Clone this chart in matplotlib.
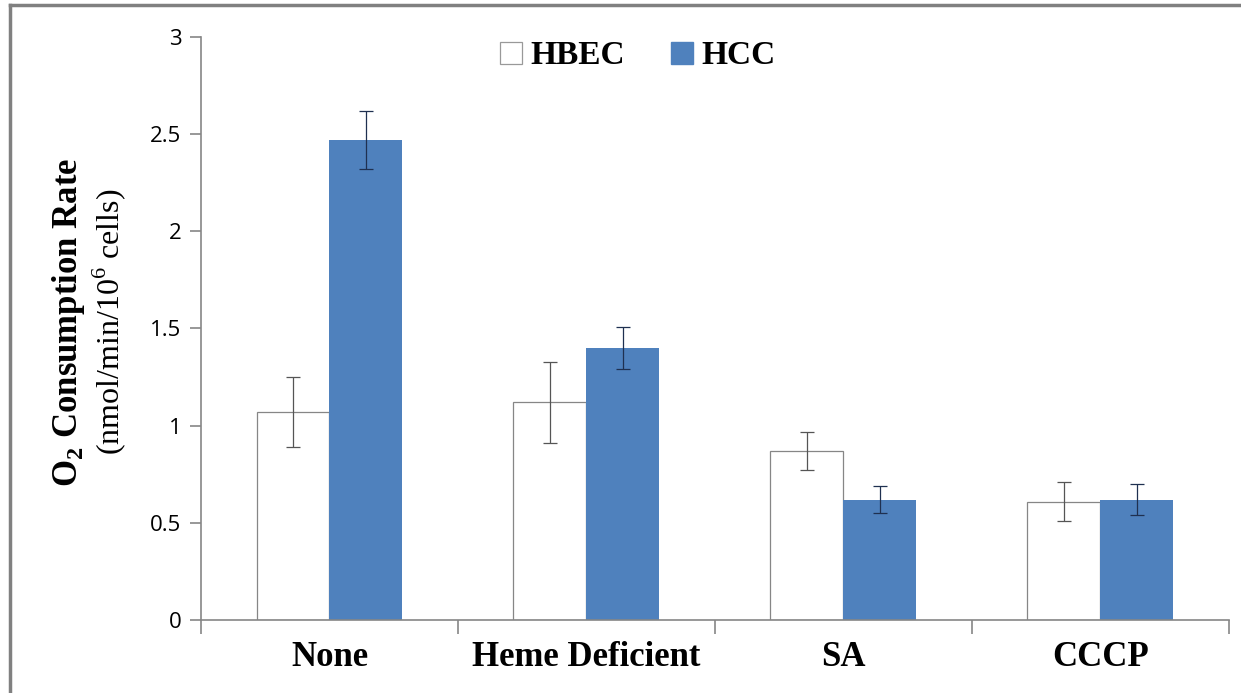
import numpy as np
import matplotlib.pyplot as plt
from matplotlib.patches import Rectangle
from matplotlib.lines import Line2D

plt.rcParams["mathtext.fontset"] = "custom"
plt.rcParams["mathtext.rm"] = "Liberation Serif"
plt.rcParams["mathtext.bf"] = "Liberation Serif:bold"

# Données
categories = ["None", "Heme Deficient", "SA", "CCCP"]
hbec = [1.07, 1.12, 0.87, 0.61]
hbec_err = [0.18, 0.21, 0.10, 0.10]
hcc = [2.47, 1.40, 0.62, 0.62]
hcc_err = [0.15, 0.11, 0.07, 0.08]

axis_col = "#868686"
blue = "#4f81bd"

fig = plt.figure(figsize=(12.41, 6.93), dpi=100)
ax = fig.add_axes([0.162, 0.105, 0.828, 0.842])

x = np.arange(len(categories))
w = 0.284
ax.bar(x - w / 2, hbec, w, color="white", edgecolor=axis_col, linewidth=0.9,
       yerr=hbec_err, error_kw=dict(ecolor="#555555", elinewidth=0.9, capsize=5, capthick=0.9))
ax.bar(x + w / 2, hcc, w, color=blue, edgecolor=blue, linewidth=0,
       yerr=hcc_err, error_kw=dict(ecolor="#1f3050", elinewidth=0.9, capsize=5, capthick=0.9))

ax.set_xlim(-0.5, len(categories) - 0.5)
ax.set_ylim(0, 3)
ax.set_yticks([0, 0.5, 1, 1.5, 2, 2.5, 3])
ax.set_yticklabels(["0", "0.5", "1", "1.5", "2", "2.5", "3"], fontsize=16, family="Open Sans")

# ticks de l'axe x aux limites des catégories
ax.set_xticks(np.arange(len(categories) + 1) - 0.5)
ax.set_xticklabels([])
ax.set_xticks(x, minor=True)
ax.set_xticklabels(categories, minor=True, fontsize=25, fontweight="bold",
                   family="Liberation Serif")
ax.tick_params(axis="x", which="minor", length=0, pad=15)
ax.tick_params(axis="x", which="major", length=10, width=1.2, color=axis_col, direction="out")
ax.tick_params(axis="y", length=8, width=1.2, color=axis_col, direction="out", pad=6)

for s in ["top", "right"]:
    ax.spines[s].set_visible(False)
for s in ["left", "bottom"]:
    ax.spines[s].set_color(axis_col)
    ax.spines[s].set_linewidth(1.2)

# titre de l'axe y sur deux lignes
fig.text(0.055, 0.535, r"O$_\mathbf{2}$ Consumption Rate", rotation=90, ha="center", va="center",
         fontsize=25, fontweight="bold", family="Liberation Serif")
fig.text(0.088, 0.535, r"(nmol/min/10$^6$ cells)", rotation=90, ha="center", va="center",
         fontsize=23, family="Liberation Serif")

# légende
handles = [
    Rectangle((0, 0), 1, 1, facecolor="white", edgecolor="#999999", linewidth=0.9),
    Rectangle((0, 0), 1, 1, facecolor=blue, edgecolor=blue),
]
ax.legend(handles, ["HBEC", "HCC"], loc="upper center", bbox_to_anchor=(0.425, 1.045), ncol=2,
          frameon=False, prop=dict(family="Liberation Serif", weight="bold", size=24),
          handlelength=0.65, handleheight=0.65, handletextpad=0.25, columnspacing=1.4)

# cadre gris autour de l'image
fig.add_artist(Line2D([0.008, 0.008], [0, 0.993], transform=fig.transFigure, color="#808080", linewidth=2.5))
fig.add_artist(Line2D([0.008, 1], [0.993, 0.993], transform=fig.transFigure, color="#808080", linewidth=2.5))

fig.savefig("out.png", dpi=100)
